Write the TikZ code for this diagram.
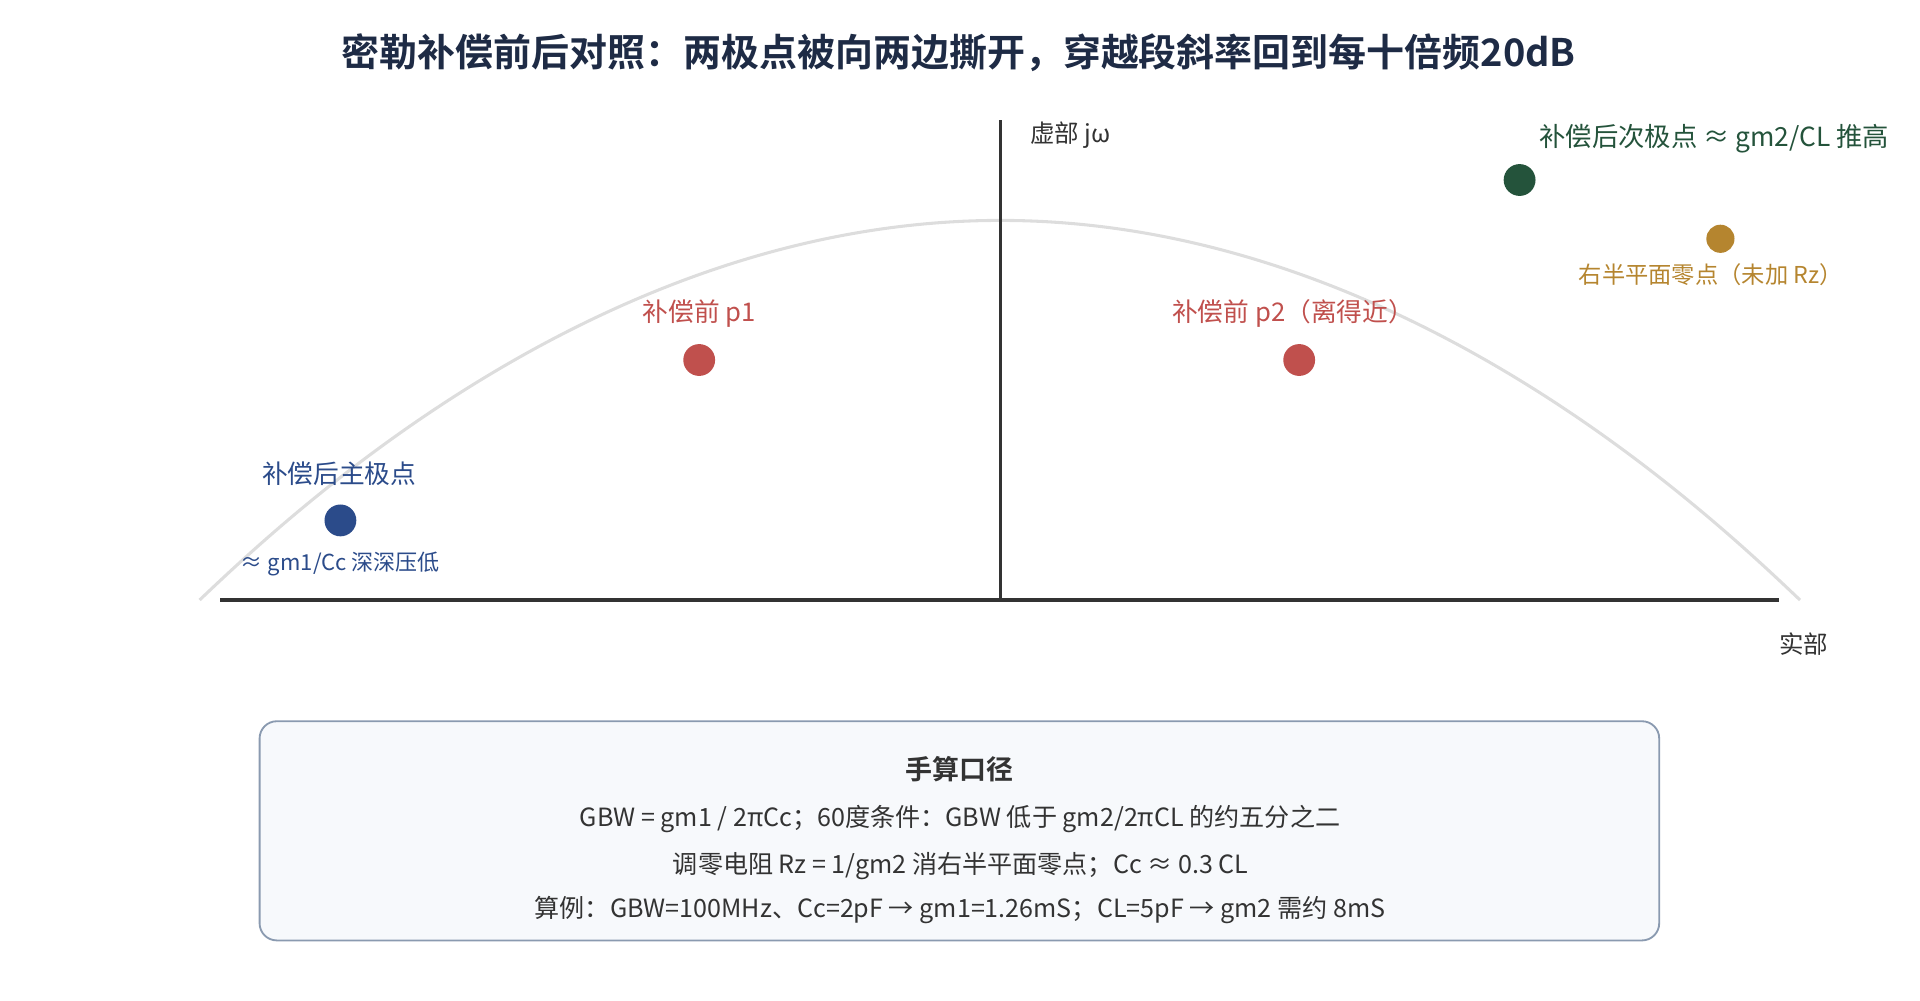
\documentclass[tikz,border=0pt]{standalone}
\usepackage{fontspec}
\setmainfont{Noto Sans CJK SC}
\newfontfamily\cjkbold{Noto Sans CJK SC Bold}
\definecolor{titlec}{HTML}{1E2B45}
\definecolor{axisc}{HTML}{333333}
\definecolor{arcc}{HTML}{DDDDDD}
\definecolor{greenc}{HTML}{24533B}
\definecolor{goldc}{HTML}{B5852F}
\definecolor{redc}{HTML}{C0504D}
\definecolor{bluec}{HTML}{2B4B8A}
\definecolor{boxline}{HTML}{8A9AB0}
\definecolor{boxfill}{HTML}{F7F9FC}
\definecolor{textc}{HTML}{333333}
\tikzset{
  dot/.style={circle,inner sep=0pt,minimum size=26pt,fill=#1},
  lbl/.style={inner sep=0pt,font=\fontsize{21}{25}\selectfont},
  boxtxt/.style={inner sep=0pt,text=textc,font=\fontsize{20.5}{24}\selectfont},
}
\begin{document}
\begin{tikzpicture}[x=1pt,y=-1pt]
\useasboundingbox (0,0) rectangle (1568,816.7);
% title
\node[inner sep=0pt,text=titlec,font=\cjkbold\fontsize{31}{36}\selectfont] (title) at (783,43) {密勒补偿前后对照：两极点被向两边撕开，穿越段斜率回到每十倍频20dB};
% arc
\draw[arcc,line width=2.5pt] (163,490) parabola bend (817,180) (1470,490);
% axes
\coordinate (xl) at (180,490);
\coordinate (xr) at (1453,490);
\coordinate (yt) at (817,98);
\coordinate (yb) at (817,490);
\draw[axisc,line width=2.5pt] (xl) -- (xr);
\draw[axisc,line width=2pt] (yt) -- (yb);
\node[lbl,anchor=west,text=axisc,font=\fontsize{20}{24}\selectfont] (imag) at (841,110) {虚部 jω};
\node[lbl,anchor=west,text=axisc,font=\fontsize{20}{24}\selectfont] (real) at (1453,526) {实部};
% points
\node[dot=greenc] (p2a) at (1241,147) {};
\node[dot=goldc,minimum size=23pt] (z) at (1405,195) {};
\node[dot=redc] (p1b) at (571,294) {};
\node[dot=redc] (p2b) at (1061,294) {};
\node[dot=bluec] (p1a) at (278,425) {};
% labels
\node[lbl,anchor=west,text=greenc,font=\fontsize{21.5}{25}\selectfont] (lp2a) at (1257,113) {补偿后次极点 ≈ gm2/CL 推高};
\node[lbl,text=goldc,font=\fontsize{19}{23}\selectfont] (lz) at (1397,224) {右半平面零点（未加 Rz）};
\node[lbl,text=redc] (lp1b) at (571,256) {补偿前 p1};
\node[lbl,text=redc] (lp2b) at (1056,256) {补偿前 p2（离得近）};
\node[lbl,text=bluec] (lp1a) at (277,387) {补偿后主极点};
\node[lbl,text=bluec,font=\fontsize{18}{22}\selectfont] (lp1a2) at (278,461) {≈ gm1/Cc 深深压低};
% box
\node[draw=boxline,fill=boxfill,line width=1.5pt,rounded corners=14pt,minimum width=1143pt,minimum height=179pt,inner sep=0pt] (box) at (783.5,678.5) {};
\node[inner sep=0pt,text=textc,font=\cjkbold\fontsize{22}{26}\selectfont] (bh) at (783.5,628) {手算口径};
\node[boxtxt] (b1) at (784,668.5) {GBW = gm1 / 2πCc；60度条件：GBW 低于 gm2/2πCL 的约五分之二};
\node[boxtxt] (b2) at (784.5,707.5) {调零电阻 Rz = 1/gm2 消右半平面零点；Cc ≈ 0.3 CL};
\node[boxtxt] (b3) at (784,743.5) {算例：GBW=100MHz、Cc=2pF → gm1=1.26mS；CL=5pF → gm2 需约 8mS};
\end{tikzpicture}
\end{document}
